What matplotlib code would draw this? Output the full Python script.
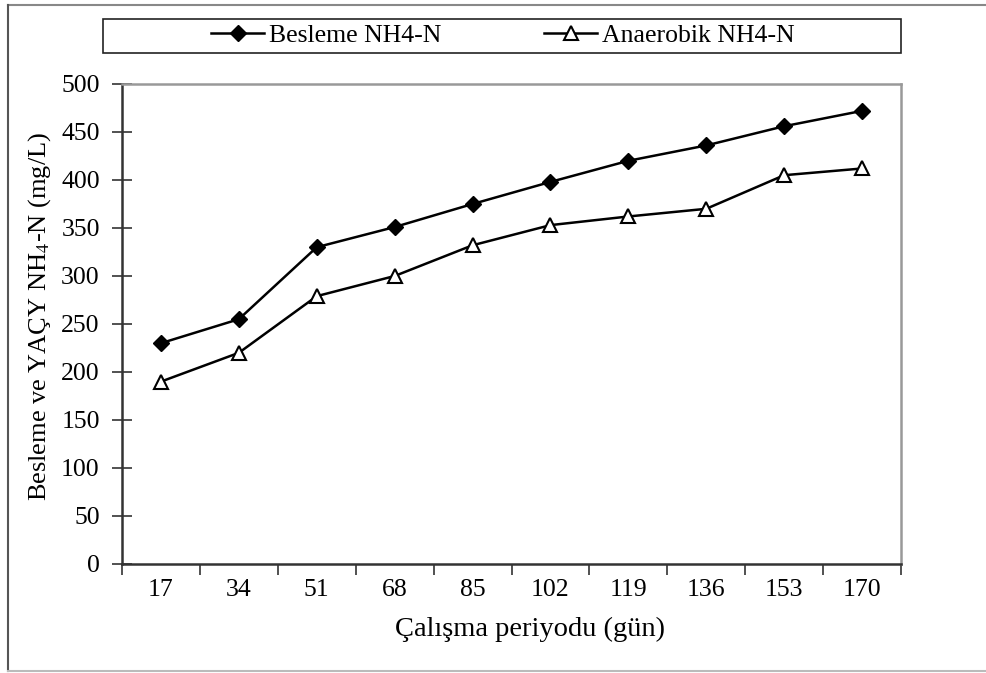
import matplotlib.pyplot as plt
from matplotlib.lines import Line2D

plt.rcParams['font.family'] = ['Liberation Serif', 'DejaVu Serif']
plt.rcParams['mathtext.fontset'] = 'stix'

# data
days = ['17', '34', '51', '68', '85', '102', '119', '136', '153', '170']
besleme = [230, 255, 330, 351, 375, 398, 420, 436, 456, 472]
anaerobik = [190, 220, 279, 300, 332, 353, 362, 370, 405, 412]

W, H = 987, 673
fig = plt.figure(figsize=(W / 100, H / 100), dpi=100)
ax = fig.add_axes([122 / W, 1 - 564 / H, (901 - 122) / W, (564 - 84) / H])

x = list(range(len(days)))
ax.plot(x, besleme, color='black', lw=1.8, marker='D', ms=8,
        mfc='black', mec='black', label='Besleme NH4-N')
ax.plot(x, anaerobik, color='black', lw=1.8, marker='^', ms=10,
        mfc='white', mec='black', mew=1.5, label='Anaerobik NH4-N')

ax.set_xlim(-0.5, len(days) - 0.5)
ax.set_ylim(0, 500)
ax.set_yticks(range(0, 501, 50))
ax.tick_params(axis='y', direction='inout', length=14, width=1.2,
               labelsize=18.5, pad=9, color='#333333')

# category ticks sit on the boundaries, labels in the middle
ax.set_xticks([i - 0.5 for i in range(len(days) + 1)])
ax.set_xticklabels([])
ax.set_xticks(x, minor=True)
ax.set_xticklabels(days, minor=True)
ax.tick_params(axis='x', which='major', direction='out', length=8,
               width=1.2, color='#333333')
ax.tick_params(axis='x', which='minor', length=0, labelsize=18.5, pad=11)

for s in ['left', 'bottom']:
    ax.spines[s].set_color('#333333')
    ax.spines[s].set_linewidth(1.8)
for s in ['top', 'right']:
    ax.spines[s].set_color('#999999')
    ax.spines[s].set_linewidth(1.8)

fig.text(40 / W, 1 - 316 / H, 'Besleme ve YAÇY NH$_4$-N (mg/L)', fontsize=19,
         rotation=90, ha='center', va='center')
fig.text(530 / W, 1 - 629 / H, 'Çalışma periyodu (gün)', fontsize=20.5,
         ha='center', va='center')

# legend box on top
fig.add_artist(plt.Rectangle((103 / W, 1 - 53 / H), (901 - 103) / W, 34 / H,
                             transform=fig.transFigure, fill=False,
                             ec='#222222', lw=1.2))
fig.legend(loc='center', bbox_to_anchor=(503 / W, 1 - 36 / H), ncol=2,
           frameon=False, fontsize=18.5, handlelength=2.05, handletextpad=0.2,
           columnspacing=4.0, borderpad=0)

# outer chart border
fig.add_artist(Line2D([8 / W, 1], [1 - 5 / H, 1 - 5 / H], color='#888888', lw=1.5))
fig.add_artist(Line2D([8 / W, 8 / W], [1 - 5 / H, 1 - 671 / H], color='#555555', lw=1.5))
fig.add_artist(Line2D([8 / W, 1], [1 - 671 / H, 1 - 671 / H], color='#bbbbbb', lw=1.5))

fig.savefig('out.png', dpi=100)
